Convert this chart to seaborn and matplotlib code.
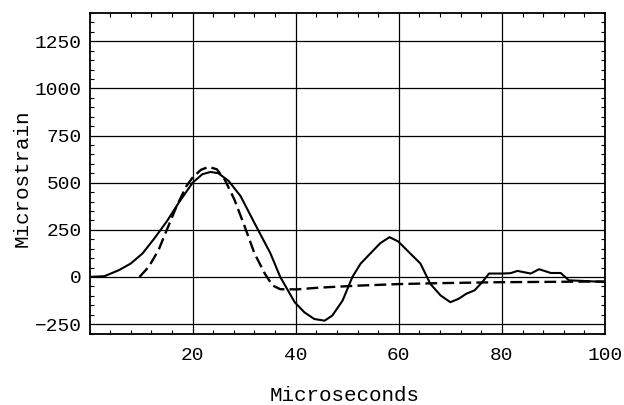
import matplotlib
matplotlib.use("Agg")
import matplotlib.pyplot as plt
import seaborn as sns
import pandas as pd
from matplotlib.ticker import MultipleLocator

# Measured strain (solid)
measured_t = [0, 2.9, 5.7, 8.0, 10.3, 12.6, 15.0, 17.3, 20.0, 21.9, 23.5, 25.0, 27.0,
              29.3, 32.0, 35.1, 37.0, 39.8, 41.7, 43.6, 45.6, 47.1, 49.1, 51.0, 52.6,
              54.5, 56.4, 58.2, 59.9, 62.2, 64.2, 66.1, 68.1, 70.0, 71.6, 73.1, 74.7,
              76.2, 77.5, 80.1, 81.7, 83.0, 85.6, 87.2, 89.5, 91.4, 93.0, 96.4, 100.0]
measured_strain = [0, 4, 36, 71, 125, 205, 295, 393, 500, 545, 557, 550, 509,
                   429, 286, 125, 0, -134, -188, -223, -232, -205, -125, 0, 71,
                   125, 179, 211, 188, 125, 71, -36, -98, -134, -116, -89, -71,
                   -27, 18, 18, 20, 32, 18, 41, 21, 21, -18, -22, -27]

# Model strain (dashed)
model_t = [9.7, 11.5, 13.4, 15.0, 16.9, 18.8, 20.0, 21.6, 23.1, 24.7, 26.2, 28.1,
           30.1, 32.0, 34.0, 35.5, 37.0, 40.2, 44.4, 52.2, 59.9, 67.7, 79.3, 100.0]
model_strain = [0, 54, 143, 250, 375, 482, 527, 568, 584, 571, 518, 411,
                268, 125, 18, -45, -65, -66, -57, -46, -38, -33, -28, -24]

x_ticks = [20, 40, 60, 80, 100]
y_ticks = [-250, 0, 250, 500, 750, 1000, 1250]
x_label = "Microseconds"
y_label = "Microstrain"

sns.set_theme(style="white")
plt.rcParams["font.family"] = ["Liberation Mono", "DejaVu Sans Mono"]

fig = plt.figure(figsize=(6.24, 4.05), dpi=100)
ax = fig.add_axes([89.5 / 624, 1 - 333.5 / 405, (605 - 89.5) / 624, (333.5 - 13) / 405])

df_meas = pd.DataFrame({"t": measured_t, "strain": measured_strain})
df_model = pd.DataFrame({"t": model_t, "strain": model_strain})

sns.lineplot(data=df_meas, x="t", y="strain", ax=ax, color="black", lw=1.5, zorder=3)
sns.lineplot(data=df_model, x="t", y="strain", ax=ax, color="black", lw=1.7,
             zorder=3).lines[-1].set_dashes((5, 2.2))

ax.set_xlim(0, 100)
ax.set_ylim(-300, 1400)
ax.set_xticks(x_ticks)
ax.set_yticks(y_ticks)
ax.set_xticklabels([str(v) for v in x_ticks])
ax.set_yticklabels([f"{v}".replace("-", "\u2212") for v in y_ticks])
ax.xaxis.set_minor_locator(MultipleLocator(4))
ax.yaxis.set_minor_locator(MultipleLocator(50))

ax.grid(True, which="major", color="black", lw=0.9)
ax.tick_params(which="both", direction="in", top=True, right=True, bottom=True, left=True,
               colors="black", labelsize=14)
ax.tick_params(which="minor", length=3, width=0.8)
ax.tick_params(axis="y", which="major", length=0, pad=5.4)
ax.tick_params(axis="x", which="major", length=0, pad=10)

for s in ax.spines.values():
    s.set_visible(True)
    s.set_color("black")
    s.set_linewidth(1.3)

ax.set_xlabel(x_label, fontsize=15, color="black")
ax.set_ylabel(y_label, fontsize=15, color="black")
ax.xaxis.set_label_coords(0.4956, -0.195)
ax.xaxis.label.set_va("center")
ax.yaxis.set_label_coords(-0.131, 0.485)
ax.yaxis.label.set_va("center")

fig.savefig("out.png", dpi=100, facecolor="white")
